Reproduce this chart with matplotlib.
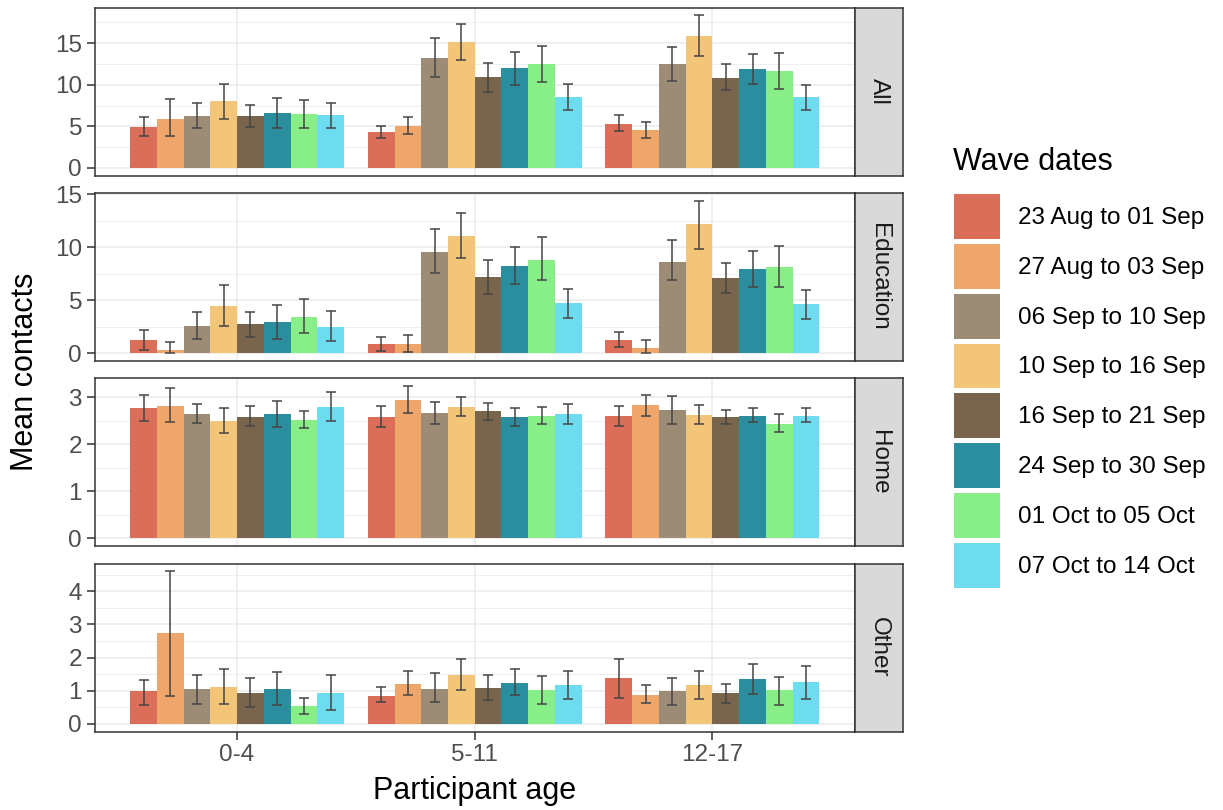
import numpy as np
import matplotlib.pyplot as plt
from matplotlib.patches import Patch

plt.rcParams['font.family'] = ['Liberation Sans', 'DejaVu Sans']

ages = ['0-4', '5-11', '12-17']
waves = ['23 Aug to 01 Sep', '27 Aug to 03 Sep', '06 Sep to 10 Sep',
         '10 Sep to 16 Sep', '16 Sep to 21 Sep', '24 Sep to 30 Sep',
         '01 Oct to 05 Oct', '07 Oct to 14 Oct']
colours = ['#DA6E58', '#EEA66B', '#9C8B75', '#F3C578',
           '#78654B', '#2A8E9E', '#88EE88', '#6CDCEE']
facets = ['All', 'Education', 'Home', 'Other']

# rows = age groups, columns = waves
all_mean = [[4.93, 5.89, 6.25, 8.00, 6.25, 6.65, 6.49, 6.33],
            [4.26, 5.05, 13.25, 15.16, 10.94, 12.02, 12.50, 8.52],
            [5.33, 4.58, 12.50, 15.88, 10.86, 11.94, 11.70, 8.52]]
all_lo = [[3.86, 3.86, 4.85, 5.93, 4.93, 4.85, 4.85, 4.81],
          [3.58, 4.06, 10.98, 12.93, 9.15, 9.99, 10.35, 6.92],
          [4.42, 3.58, 10.43, 13.49, 9.35, 10.07, 9.55, 6.92]]
all_hi = [[6.09, 8.32, 7.80, 10.10, 7.60, 8.44, 8.20, 7.80],
          [5.01, 6.09, 15.68, 17.35, 12.60, 14.00, 14.72, 10.10],
          [6.33, 5.53, 14.52, 18.38, 12.46, 13.73, 13.81, 10.03]]

edu_mean = [[1.22, 0.31, 2.59, 4.50, 2.75, 2.97, 3.47, 2.53],
            [0.84, 0.91, 9.56, 11.06, 7.19, 8.25, 8.84, 4.72],
            [1.28, 0.53, 8.66, 12.16, 7.13, 7.97, 8.19, 4.63]]
edu_lo = [[0.31, 0.00, 1.34, 2.56, 1.50, 1.31, 1.88, 1.16],
          [0.19, 0.09, 7.59, 9.03, 5.63, 6.53, 6.94, 3.34],
          [0.59, 0.00, 6.88, 9.88, 5.72, 6.28, 6.22, 3.25]]
edu_hi = [[2.16, 1.03, 3.88, 6.44, 3.90, 4.56, 5.09, 3.97],
          [1.53, 1.72, 11.75, 13.28, 8.81, 10.03, 10.97, 6.09],
          [2.03, 1.22, 10.72, 14.41, 8.53, 9.66, 10.09, 5.97]]

home_mean = [[2.78, 2.82, 2.64, 2.50, 2.59, 2.64, 2.52, 2.80],
             [2.59, 2.95, 2.67, 2.80, 2.72, 2.59, 2.60, 2.64],
             [2.60, 2.84, 2.73, 2.62, 2.59, 2.60, 2.44, 2.61]]
home_lo = [[2.50, 2.47, 2.46, 2.24, 2.39, 2.38, 2.35, 2.49],
           [2.38, 2.66, 2.44, 2.61, 2.51, 2.40, 2.44, 2.44],
           [2.39, 2.61, 2.44, 2.43, 2.44, 2.47, 2.27, 2.47]]
home_hi = [[3.06, 3.20, 2.85, 2.78, 2.82, 2.93, 2.70, 3.11],
           [2.82, 3.25, 2.91, 3.01, 2.89, 2.78, 2.80, 2.85],
           [2.81, 3.06, 3.03, 2.83, 2.74, 2.78, 2.64, 2.77]]

other_mean = [[0.99, 2.75, 1.05, 1.10, 0.92, 1.05, 0.53, 0.94],
              [0.85, 1.20, 1.06, 1.48, 1.07, 1.24, 1.03, 1.16],
              [1.39, 0.87, 0.99, 1.18, 0.92, 1.35, 1.01, 1.25]]
other_lo = [[0.58, 0.83, 0.61, 0.61, 0.50, 0.57, 0.31, 0.43],
            [0.65, 0.86, 0.67, 1.01, 0.73, 0.87, 0.60, 0.74],
            [0.78, 0.62, 0.58, 0.76, 0.64, 0.91, 0.58, 0.74]]
other_hi = [[1.33, 4.61, 1.49, 1.65, 1.37, 1.57, 0.79, 1.48],
            [1.12, 1.59, 1.55, 1.96, 1.49, 1.65, 1.44, 1.61],
            [1.97, 1.17, 1.38, 1.61, 1.19, 1.81, 1.41, 1.75]]

yticks = {'All': [0, 5, 10, 15], 'Education': [0, 5, 10, 15],
          'Home': [0, 1, 2, 3], 'Other': [0, 1, 2, 3, 4]}
panel_data = {'All': (all_mean, all_lo, all_hi),
              'Education': (edu_mean, edu_lo, edu_hi),
              'Home': (home_mean, home_lo, home_hi),
              'Other': (other_mean, other_lo, other_hi)}

W, H = 1223, 810


def box(x0, y0, x1, y1):
    # pixel box (top-left origin) -> figure fraction
    return [x0 / W, 1 - y1 / H, (x1 - x0) / W, (y1 - y0) / H]


fig = plt.figure(figsize=(W / 100, H / 100), dpi=100)

tops = [7.5, 193, 378, 563.5]
ph = 168
px0, px1, sx1 = 94.5, 855, 903

bw = 0.9 / len(waves)
offs = (np.arange(len(waves)) - (len(waves) - 1) / 2) * bw
x = np.arange(1, len(ages) + 1)

for i, name in enumerate(facets):
    mean, lo, hi = [np.array(a) for a in panel_data[name]]
    t = tops[i]
    ax = fig.add_axes(box(px0, t, px1, t + ph))
    for j in range(len(waves)):
        xs = x + offs[j]
        ax.bar(xs, mean[:, j], width=bw, color=colours[j], zorder=3)
        ax.errorbar(xs, mean[:, j],
                    yerr=[mean[:, j] - lo[:, j], hi[:, j] - mean[:, j]],
                    fmt='none', ecolor='#454545', elinewidth=1.1,
                    capsize=3.6, capthick=1.1, zorder=4)
    yt = yticks[name]
    ax.set_yticks(yt)
    ax.set_yticks([(a + b) / 2 for a, b in zip(yt[:-1], yt[1:])] +
                  [yt[-1] + (yt[1] - yt[0]) / 2], minor=True)
    ax.set_xticks(x)
    ymin = min(0, lo.min())
    ymax = hi.max()
    pad = 0.05 * (ymax - ymin)
    ax.set_ylim(ymin - pad, ymax + pad)
    ax.set_xlim(0.4, len(ages) + 0.6)
    ax.grid(True, which='major', color='#EBEBEB', lw=1.1, zorder=0)
    ax.grid(True, which='minor', axis='y', color='#EBEBEB', lw=0.55, zorder=0)
    ax.set_axisbelow(True)
    ax.tick_params(axis='y', which='major', length=5.5, width=1.1,
                   color='#333333', labelsize=17.5, labelcolor='#4D4D4D',
                   pad=3.5)
    ax.tick_params(axis='both', which='minor', length=0)
    if i == len(facets) - 1:
        ax.set_xticklabels(ages)
        ax.tick_params(axis='x', length=5.5, width=1.1, color='#333333',
                       labelsize=17.5, labelcolor='#4D4D4D', pad=3.5)
    else:
        ax.tick_params(axis='x', length=0, labelbottom=False)
    for sp in ax.spines.values():
        sp.set_color('#333333')
        sp.set_linewidth(1.1)

    # facet strip
    st = fig.add_axes(box(px1, t, sx1, t + ph))
    st.set_facecolor('#D9D9D9')
    st.set_xticks([])
    st.set_yticks([])
    for sp in st.spines.values():
        sp.set_color('#333333')
        sp.set_linewidth(1.1)
    st.text(0.5, 0.5, name, rotation=270, ha='center', va='center',
            fontsize=17.5, color='#1A1A1A', transform=st.transAxes)

fig.text(25 / W, 1 - 372 / H, 'Mean contacts', rotation=90,
         ha='center', va='center', fontsize=22)
fig.text(474.5 / W, 1 - 791 / H, 'Participant age',
         ha='center', va='center', fontsize=22)

fig.text(953 / W, 1 - 162 / H, 'Wave dates', ha='left', va='center',
         fontsize=22)
handles = [Patch(facecolor=c, label=l) for c, l in zip(colours, waves)]
leg = fig.legend(handles=handles, loc='upper left',
                 bbox_to_anchor=(954 / W, 1 - 194 / H), frameon=False,
                 fontsize=17.5,
                 handlelength=1.89, handleheight=2.47, labelspacing=0.2,
                 handletextpad=0.74, borderpad=0, borderaxespad=0)

fig.savefig('out.png', dpi=100)
